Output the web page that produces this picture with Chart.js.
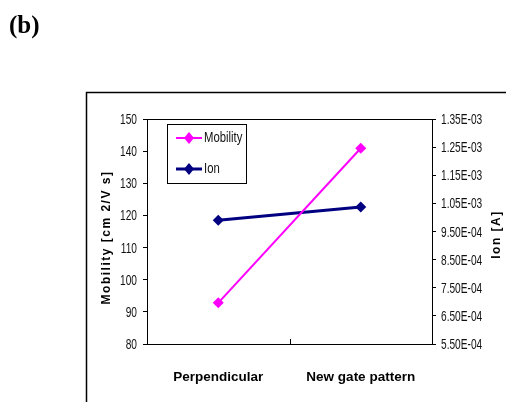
<!DOCTYPE html>
<html lang="en">
<head>
  <meta charset="UTF-8">
  <title>Mobility / Ion</title>
  <script src="https://cdn.jsdelivr.net/npm/chart.js"></script>
  <style>
    body { margin: 0; background: #fff; }
    canvas { display: block; }
  </style>
</head>
<body>
  <canvas id="chart" width="506" height="402"></canvas>

  <script>
    const categories = ['Perpendicular', 'New gate pattern'];
    const mobility = [92.8, 140.9];
    const ion = [9.9e-4, 1.037e-3];
    const mobilityTicks = [80, 90, 100, 110, 120, 130, 140, 150];
    const ionTicks = [5.5e-4, 6.5e-4, 7.5e-4, 8.5e-4, 9.5e-4, 1.05e-3, 1.15e-3, 1.25e-3, 1.35e-3];

    const SANS = "'Liberation Sans', Arial, sans-serif";
    const SQUEEZE = 0.7; // source uses a narrow face, none installed

    function sci(v) {
      const [m, e] = v.toExponential(2).split('e');
      const n = Math.abs(+e);
      return m + 'E' + (+e < 0 ? '-' : '+') + (n < 10 ? '0' + n : n);
    }

    function narrowText(ctx, text, x, y, align, squeeze) {
      ctx.save();
      ctx.translate(x, y);
      ctx.scale(squeeze, 1);
      ctx.textAlign = align;
      ctx.fillText(text, 0, 0);
      ctx.restore();
    }

    // frame, plot box, inward x ticks, tick labels, axis titles, legend, panel letter
    const decor = {
      id: 'decor',
      beforeDraw(chart) {
        const ctx = chart.ctx;
        ctx.save();
        ctx.fillStyle = '#fff';
        ctx.fillRect(0, 0, chart.width, chart.height);
        ctx.strokeStyle = '#000';
        ctx.lineWidth = 1.5;
        ctx.strokeRect(86.5, 92.5, 700, 700);
        ctx.restore();
      },
      afterDraw(chart) {
        const ctx = chart.ctx;
        const a = chart.chartArea;
        ctx.save();
        ctx.strokeStyle = '#000';
        ctx.lineWidth = 1;
        ctx.strokeRect(Math.round(a.left) + 0.5, Math.round(a.top) + 0.5,
          Math.round(a.right - a.left), Math.round(a.bottom - a.top));

        // category separators on x axis, pointing up
        const band = (a.right - a.left) / categories.length;
        for (let i = 0; i <= categories.length; i++) {
          const px = Math.round(a.left + band * i) + 0.5;
          ctx.beginPath();
          ctx.moveTo(px, a.bottom);
          ctx.lineTo(px, a.bottom - 5);
          ctx.stroke();
        }

        // y tick labels in a condensed look
        ctx.fillStyle = '#111';
        ctx.font = '14.5px ' + SANS;
        ctx.textBaseline = 'middle';
        const ys = chart.scales.y, y1 = chart.scales.y1;
        ys.ticks.forEach(t => {
          narrowText(ctx, String(t.value), a.left - 10, ys.getPixelForValue(t.value) + 1, 'right', SQUEEZE);
        });
        y1.ticks.forEach(t => {
          narrowText(ctx, sci(t.value), a.right + 9, y1.getPixelForValue(t.value) + 1, 'left', SQUEEZE);
        });

        // axis titles, both reading bottom to top
        ctx.fillStyle = '#000';
        ctx.font = 'bold 12px ' + SANS;
        ctx.letterSpacing = '1.5px';
        ctx.textAlign = 'center';
        ctx.textBaseline = 'middle';
        const cy = (a.top + a.bottom) / 2;
        ctx.save();
        ctx.translate(107, cy + 6);
        ctx.rotate(-Math.PI / 2);
        ctx.fillText('Mobility [cm 2/V s]', 0, 0);
        ctx.restore();
        ctx.save();
        ctx.translate(497, cy + 3);
        ctx.rotate(-Math.PI / 2);
        ctx.fillText('Ion [A]', 0, 0);
        ctx.restore();
        ctx.letterSpacing = '0px';

        // legend box
        const lx = 167, ly = 124, lw = 79, lh = 59;
        ctx.fillStyle = '#fff';
        ctx.fillRect(lx, ly, lw, lh);
        ctx.strokeRect(lx + 0.5, ly + 0.5, lw, lh);
        chart.data.datasets.forEach((ds, i) => {
          const yy = ly + 14 + i * 31;
          ctx.strokeStyle = ds.borderColor;
          ctx.lineWidth = ds.borderWidth;
          ctx.beginPath();
          ctx.moveTo(176, yy);
          ctx.lineTo(202, yy);
          ctx.stroke();
          ctx.fillStyle = ds.borderColor;
          ctx.beginPath();
          ctx.moveTo(189, yy - 6);
          ctx.lineTo(194, yy);
          ctx.lineTo(189, yy + 6);
          ctx.lineTo(184, yy);
          ctx.closePath();
          ctx.fill();
          ctx.fillStyle = '#111';
          ctx.font = '14.5px ' + SANS;
          ctx.textBaseline = 'middle';
          narrowText(ctx, ds.label, 204, yy, 'left', 0.78);
        });

        // panel letter
        ctx.fillStyle = '#000';
        ctx.font = 'bold 25px "Liberation Serif", "Times New Roman", serif';
        ctx.textAlign = 'left';
        ctx.textBaseline = 'alphabetic';
        ctx.fillText('(b)', 9, 33);
        ctx.restore();
      }
    };

    new Chart(document.getElementById('chart'), {
      type: 'line',
      data: {
        labels: categories,
        datasets: [
          {
            label: 'Mobility',
            data: mobility,
            yAxisID: 'y',
            borderColor: '#ff00ff',
            backgroundColor: '#ff00ff',
            borderWidth: 2,
            pointStyle: 'rectRot',
            pointRadius: 5.5,
            pointBorderWidth: 0
          },
          {
            label: 'Ion',
            data: ion,
            yAxisID: 'y1',
            borderColor: '#000080',
            backgroundColor: '#000080',
            borderWidth: 3,
            pointStyle: 'rectRot',
            pointRadius: 5.5,
            pointBorderWidth: 0
          }
        ]
      },
      options: {
        responsive: false,
        animation: false,
        layout: { padding: { top: 119, left: 0, right: 0, bottom: 0 } },
        plugins: { legend: { display: false }, tooltip: { enabled: false } },
        scales: {
          x: {
            type: 'category',
            offset: true,
            grid: { display: false },
            border: { display: true, color: '#000', width: 1 },
            ticks: { color: '#000', padding: 17, font: { family: SANS, size: 13.5, weight: 'bold' } },
            afterFit: s => { s.height = 58; }
          },
          y: {
            position: 'left',
            min: 80,
            max: 150,
            afterBuildTicks: s => { s.ticks = mobilityTicks.map(v => ({ value: v })); },
            grid: { drawOnChartArea: false, color: '#000', tickLength: 4 },
            border: { display: true, color: '#000', width: 1 },
            ticks: { color: 'transparent', padding: 6, font: { family: SANS, size: 13 } },
            afterFit: s => { s.width = 147; }
          },
          y1: {
            position: 'right',
            min: 5.5e-4,
            max: 1.35e-3,
            afterBuildTicks: s => { s.ticks = ionTicks.map(v => ({ value: v })); },
            grid: { drawOnChartArea: false, color: '#000', tickLength: 4 },
            border: { display: true, color: '#000', width: 1 },
            ticks: { color: 'transparent', padding: 5, callback: v => sci(v), font: { family: SANS, size: 13 } },
            afterFit: s => { s.width = 74; }
          }
        }
      },
      plugins: [decor]
    });
  </script>
</body>
</html>
